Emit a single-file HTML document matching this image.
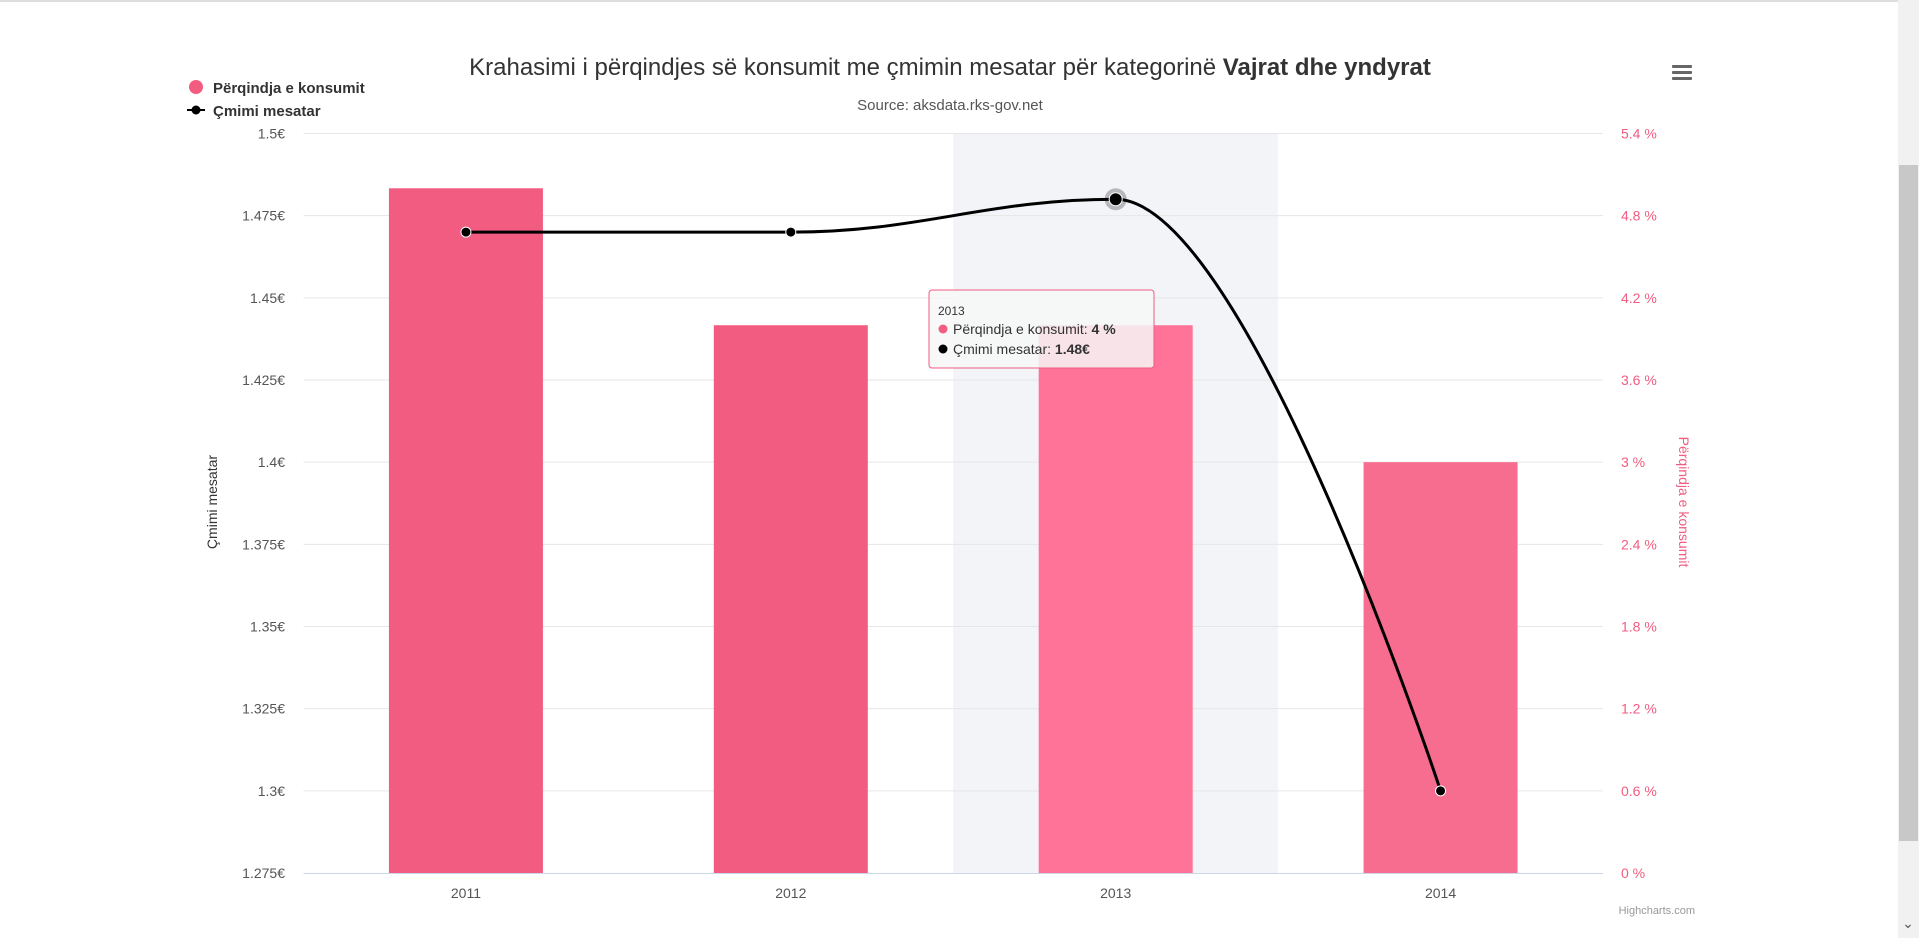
<!DOCTYPE html>
<html><head><meta charset="utf-8"><style>
html,body{margin:0;padding:0;width:1919px;height:938px;overflow:hidden;background:#fff;font-family:"Liberation Sans",sans-serif}
</style></head><body>
<svg id="c" width="1919" height="938" xmlns="http://www.w3.org/2000/svg" style="position:absolute;left:0;top:0">
<rect x="0" y="0" width="1919" height="2" fill="#ddd"/>
<rect x="1898" y="0" width="21" height="938" fill="#f1f1f1"/>
<rect x="1899" y="165" width="19" height="676" fill="#c8c8c8"/>
<text x="1908" y="928" font-size="14" text-anchor="middle" fill="#555">⌄</text>
<g id="plot"></g>
<text x="950" y="75" font-size="24" text-anchor="middle" fill="#333">Krahasimi i përqindjes së konsumit me çmimin mesatar për kategorinë <tspan font-weight="bold">Vajrat dhe yndyrat</tspan></text>
<text x="950" y="110" font-size="15" text-anchor="middle" fill="#555">Source: aksdata.rks-gov.net</text>
<g><circle cx="196" cy="87" r="7" fill="#f15c80"/><text x="213" y="93" font-size="15" font-weight="bold" fill="#333">Përqindja e konsumit</text></g>
<g><line x1="187" y1="110" x2="205" y2="110" stroke="#000" stroke-width="2"/><circle cx="196" cy="110" r="4.5" fill="#000"/><text x="213" y="116" font-size="15" font-weight="bold" fill="#333">Çmimi mesatar</text></g>
<g fill="#666"><rect x="1672" y="65" width="20" height="3" rx="1"/><rect x="1672" y="71" width="20" height="3" rx="1"/><rect x="1672" y="77" width="20" height="3" rx="1"/></g>
<text x="217" y="502" font-size="14" text-anchor="middle" fill="#333" transform="rotate(-90 217 502)">Çmimi mesatar</text>
<text x="1679" y="502" font-size="14" text-anchor="middle" fill="#f15c80" transform="rotate(90 1679 502)">Përqindja e konsumit</text>
<text x="1695" y="914" font-size="11" text-anchor="end" fill="#999">Highcharts.com</text>
</svg>
<script>
const categories=["2011","2012","2013","2014"];
const percentValues=[5,4,4,3];
const priceValues=[1.47,1.47,1.48,1.3];
const leftTicks=[1.275,1.3,1.325,1.35,1.375,1.4,1.425,1.45,1.475,1.5];
const rightTicks=[0,0.6,1.2,1.8,2.4,3,3.6,4.2,4.8,5.4];
const hoverIndex=2;
const X0=303.5,X1=1603,Y0=873,Y1=133.5;
const NS="http://www.w3.org/2000/svg";
const g=document.getElementById('plot');
const cw=(X1-X0)/categories.length;
const xC=i=>X0+cw*(i+0.5);
const yL=v=>Y0-(v-1.275)/(1.5-1.275)*(Y0-Y1);
const yR=v=>Y0-v/5.4*(Y0-Y1);
function mk(t,a,p){const e=document.createElementNS(NS,t);for(const k in a)e.setAttribute(k,a[k]);(p||g).appendChild(e);return e;}
let band=mk('rect',{x:X0+cw*hoverIndex,y:Y1,width:cw,height:Y0-Y1,fill:'#f2f4f8'});


leftTicks.forEach((v,i)=>{
 const y=yL(v);
 if(i>0){const l=mk('line',{x1:X0,x2:X1,y1:y,y2:y,stroke:'#e6e6e6','stroke-width':1});
 
 }
 const t=mk('text',{x:285,y:y+5,'font-size':14,'text-anchor':'end',fill:'#555'});t.textContent=v+'€';
 
 
});
rightTicks.forEach(v=>{
 const t=mk('text',{x:1621,y:yR(v)+5,'font-size':14,fill:'#f15c80'});t.textContent=v+' %';
 
 
});
const colors=['#f15c80','#f15c80','#ff7399','#f76d8f'];
percentValues.forEach((v,i)=>{
 const b=mk('rect',{x:xC(i)-77,y:yR(v),width:154,height:Y0-yR(v),fill:colors[i]});
 
 
});
const ax=mk('line',{x1:X0,x2:X1,y1:Y0+0.5,y2:Y0+0.5,stroke:'#ccd6eb','stroke-width':1});


categories.forEach((c,i)=>{
 const t=mk('text',{x:xC(i),y:898,'font-size':14,'text-anchor':'middle',fill:'#555'});t.textContent=c;
 
 
});
// spline (Highcharts style)
const pts=priceValues.map((v,i)=>[xC(i),yL(v)]);
function ctrl(i){
 const s=1.5,d=s+1,p=pts[i],l=pts[i-1],n=pts[i+1];
 if(!l||!n)return null;
 let lx=(s*p[0]+l[0])/d,ly=(s*p[1]+l[1])/d,rx=(s*p[0]+n[0])/d,ry=(s*p[1]+n[1])/d;
 let corr=0;
 if(rx!==lx){const c=(ry-ly)/(rx-lx);corr=(ly-ry)*0;ly=ly;}
 const m=(ry-ly)/(rx-lx);
 const nly=p[1]+m*(lx-p[0]),nry=p[1]+m*(rx-p[0]);
 let L=[lx,nly],R=[rx,nry];
 if(L[1]>Math.max(l[1],p[1])||L[1]<Math.min(l[1],p[1])){L[1]=(L[1]>Math.max(l[1],p[1]))?Math.max(l[1],p[1]):Math.min(l[1],p[1]);R[1]=2*p[1]-L[1];}
 if(R[1]>Math.max(n[1],p[1])||R[1]<Math.min(n[1],p[1])){R[1]=(R[1]>Math.max(n[1],p[1]))?Math.max(n[1],p[1]):Math.min(n[1],p[1]);L[1]=2*p[1]-R[1];}
 return {L,R};
}
const cs=pts.map((p,i)=>ctrl(i));
let d='M'+pts[0][0]+' '+pts[0][1];
for(let i=1;i<pts.length;i++){
 const a=cs[i-1]?cs[i-1].R:pts[i-1],b=cs[i]?cs[i].L:pts[i];
 d+=` C${a[0]} ${a[1]} ${b[0]} ${b[1]} ${pts[i][0]} ${pts[i][1]}`;
}
const path=mk('path',{d:d,fill:'none',stroke:'#000','stroke-width':3});


pts.forEach((p,i)=>{
 if(i===hoverIndex){const h=mk('circle',{cx:p[0],cy:p[1],r:11,fill:'#000','fill-opacity':0.25});
 
 }
 const c=mk('circle',{cx:p[0],cy:p[1],r:i===hoverIndex?6.5:5,fill:'#000',stroke:'#fff','stroke-width':1});
 
 
});
// tooltip
const tt=mk('g',{});


mk('rect',{x:929,y:290,width:225,height:78,rx:3,fill:'#f7f7f7','fill-opacity':0.85,stroke:'#f15c80','stroke-width':1},tt);
const t1=mk('text',{x:938,y:315,'font-size':12,fill:'#333'},tt);t1.textContent=categories[hoverIndex];
mk('circle',{cx:943,cy:329,r:4.5,fill:'#f15c80'},tt);
const t2=mk('text',{x:953,y:334,'font-size':14,fill:'#333'},tt);t2.innerHTML='Përqindja e konsumit: <tspan font-weight="bold">'+percentValues[hoverIndex]+' %</tspan>';
mk('circle',{cx:943,cy:349,r:4.5,fill:'#000'},tt);
const t3=mk('text',{x:953,y:354,'font-size':14,fill:'#333'},tt);t3.innerHTML='Çmimi mesatar: <tspan font-weight="bold">'+priceValues[hoverIndex]+'€</tspan>';
</script>
</body></html>
